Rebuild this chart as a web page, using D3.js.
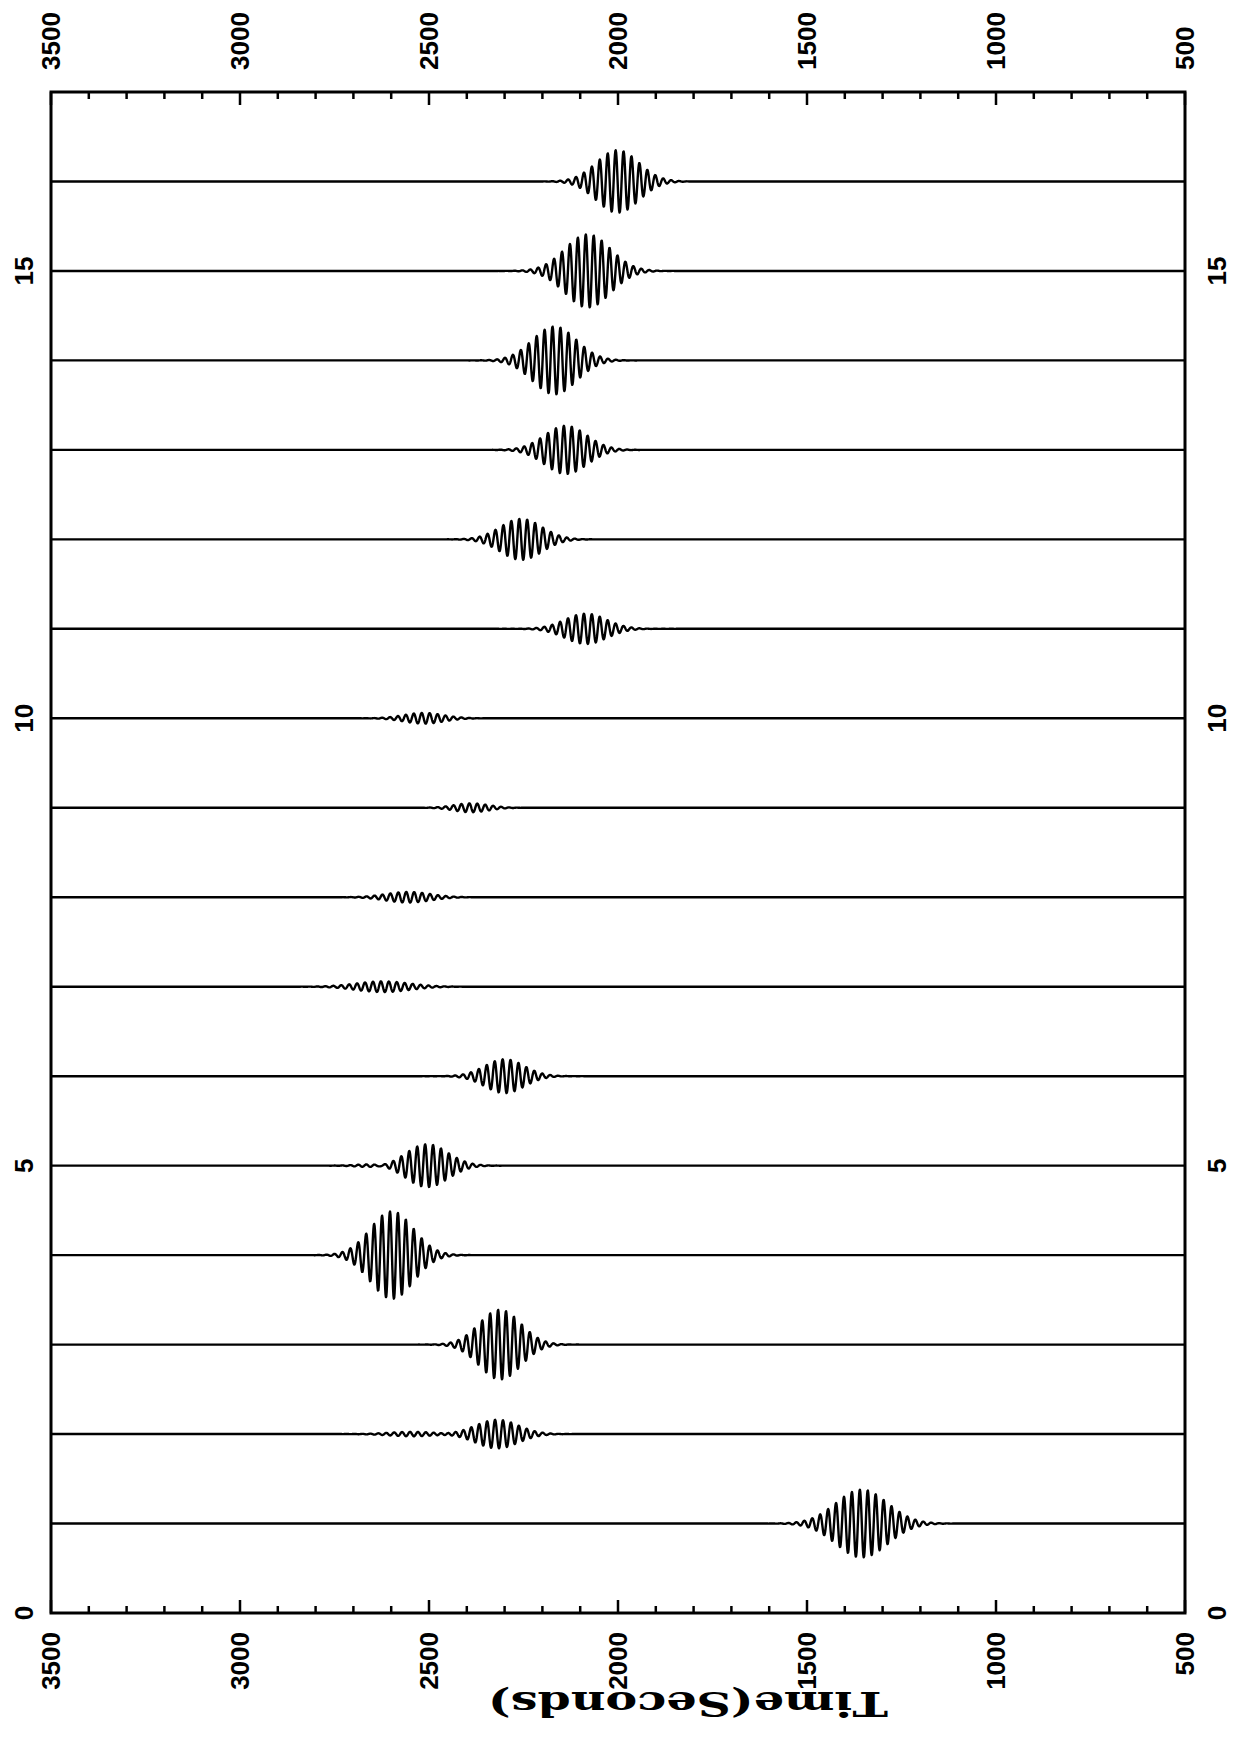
<!DOCTYPE html>
<html>
<head>
<meta charset="utf-8">
<script src="https://cdn.jsdelivr.net/npm/d3@7"></script>
<style>
  html, body { margin: 0; padding: 0; background: #fff; }
  svg { display: block; }
</style>
</head>
<body>
<div id="chart"></div>
<script>
// trace number (vertical axis)
const traces = [1, 2, 3, 4, 5, 6, 7, 8, 9, 10, 11, 12, 13, 14, 15, 16];
// arrival time of each wave packet (seconds)
const arrivals = [1355, 2320, 2312, 2598, 2505, 2300, 2622, 2555, 2388, 2514, 2085, 2256, 2138, 2168, 2080, 2001];
// half peak-to-peak amplitude, in trace units
const amplitudes = [0.38, 0.16, 0.39, 0.49, 0.24, 0.19, 0.06, 0.06, 0.05, 0.06, 0.17, 0.23, 0.27, 0.38, 0.41, 0.35];
// packet width (gaussian sigma, seconds)
const widths = [68, 56, 55, 57, 55, 52, 70, 58, 45, 52, 55, 55, 56, 58, 60, 56];
// weak early arrivals seen on a few traces
const precursorTraces = [2, 5];
const precursorArrivals = [2545, 2640];
const precursorAmplitudes = [0.025, 0.02];
const precursorWidths = [60, 45];
const period = 21; // carrier period, seconds

const timeTicks = [3500, 3000, 2500, 2000, 1500, 1000, 500];
const traceTicks = [0, 5, 10, 15];

const W = 1239, H = 1739;
const margin = { left: 51, right: 1185, top: 92, bottom: 1613 };

const svg = d3.select("#chart").append("svg")
    .attr("width", W)
    .attr("height", H);

svg.append("rect").attr("width", W).attr("height", H).attr("fill", "#fff");

const x = d3.scaleLinear().domain([3500, 500]).range([margin.left, margin.right]);
const y = d3.scaleLinear().domain([0, 17]).range([margin.bottom, margin.top]);

function packet(t, c, a, s) {
    const env = Math.exp(-((t - c) * (t - c)) / (2 * s * s));
    return a * env * Math.sin(2 * Math.PI * (t - c) / period);
}

// build each trace: flat line + gaussian-windowed oscillation
const times = d3.range(3500, 499, -1);
const line = d3.line()
    .x(d => x(d[0]))
    .y(d => y(d[1]));

const g = svg.append("g");
traces.forEach((tr, i) => {
    const p = precursorTraces.indexOf(tr);
    const pts = times.map(t => {
        let v = packet(t, arrivals[i], amplitudes[i], widths[i]);
        if (p >= 0) v += packet(t, precursorArrivals[p], precursorAmplitudes[p], precursorWidths[p]);
        return [t, tr + v];
    });
    g.append("path")
        .attr("d", line(pts))
        .attr("fill", "none")
        .attr("stroke", "#000")
        .attr("stroke-width", 2.4)
        .attr("stroke-linejoin", "round");
});

// ticks on top and bottom edges, pointing inward
const minor = d3.range(3500, 499, -100).filter(v => v % 500 !== 0);
function edgeTicks(yPos, dir) {
    svg.append("g").selectAll("line.minor").data(minor).enter().append("line")
        .attr("x1", d => x(d)).attr("x2", d => x(d))
        .attr("y1", yPos).attr("y2", yPos + dir * 7)
        .attr("stroke", "#000").attr("stroke-width", 2.5);
    svg.append("g").selectAll("line.major").data(timeTicks).enter().append("line")
        .attr("x1", d => x(d)).attr("x2", d => x(d))
        .attr("y1", yPos).attr("y2", yPos + dir * 13)
        .attr("stroke", "#000").attr("stroke-width", 2.5);
}
edgeTicks(margin.top, 1);
edgeTicks(margin.bottom, -1);

// frame
svg.append("rect")
    .attr("x", margin.left).attr("y", margin.top)
    .attr("width", margin.right - margin.left)
    .attr("height", margin.bottom - margin.top)
    .attr("fill", "none")
    .attr("stroke", "#000")
    .attr("stroke-width", 3);

const font = "'Liberation Sans', Arial, sans-serif";

// time labels, rotated
svg.append("g").selectAll("text").data(timeTicks).enter().append("text")
    .attr("transform", d => `translate(${x(d) + 9},70) rotate(-90)`)
    .attr("text-anchor", "start")
    .attr("font-family", font).attr("font-weight", "bold").attr("font-size", 26)
    .text(d => d);
svg.append("g").selectAll("text").data(timeTicks).enter().append("text")
    .attr("transform", d => `translate(${x(d) + 9},1632) rotate(-90)`)
    .attr("text-anchor", "end")
    .attr("font-family", font).attr("font-weight", "bold").attr("font-size", 26)
    .text(d => d);

// trace labels on both sides
[24, 1217].forEach(xp => {
    svg.append("g").selectAll("text").data(traceTicks).enter().append("text")
        .attr("transform", d => `translate(${xp + 9},${y(d)}) rotate(-90)`)
        .attr("text-anchor", "middle")
        .attr("font-family", font).attr("font-weight", "bold").attr("font-size", 26)
        .text(d => d);
});

// axis title, upside down as in the scanned figure
svg.append("text")
    .attr("transform", "translate(688,1692) rotate(180)")
    .attr("text-anchor", "middle")
    .attr("font-family", "'DejaVu Serif', serif")
    .attr("font-weight", "bold")
    .attr("font-size", 34)
    .attr("textLength", 400)
    .attr("lengthAdjust", "spacingAndGlyphs")
    .text("Time(Seconds)");
</script>
</body>
</html>
